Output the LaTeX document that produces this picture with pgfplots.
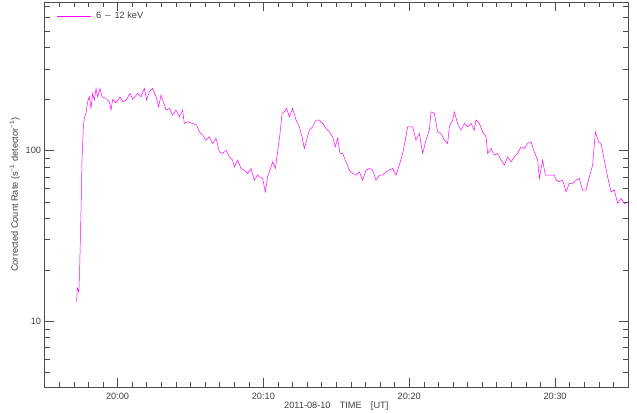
\documentclass[border=0pt]{standalone}
\usepackage{fontspec}
\setmainfont{Liberation Sans}
\usepackage{pgfplots}
\pgfplotsset{compat=1.18}
\definecolor{mag}{RGB}{255,0,255}
\begin{document}
\begin{tikzpicture}
\useasboundingbox (-44.6bp,-26.7bp) rectangle (592.4bp,387.3bp);
\begin{axis}[
  scale only axis,
  width=583.4bp, height=385.3bp,
  at={(0,0)}, anchor=south west,
  xmin=-5, xmax=35,
  ymode=log, ymin=4.1, ymax=740,
  xtick={0,10,20,30},
  xticklabels={20:00,20:10,20:20,20:30},
  minor xtick={-4,-3,-2,-1,1,2,3,4,5,6,7,8,9,11,12,13,14,15,16,17,18,19,21,22,23,24,25,26,27,28,29,31,32,33,34},
  ytick={10,100},
  yticklabels={10,100},
  minor ytick={5,6,7,8,9,20,30,40,50,60,70,80,90,200,300,400,500,600,700},
  tick align=inside,
  major tick length=9.5bp,
  minor tick length=5bp,
  tick style={black!70, line width=0.5bp},
  axis line style={black!70, line width=0.6bp},
  tick label style={font=\fontsize{9.2bp}{11bp}\selectfont, text=black!75},
  /pgf/number format/assume math mode=true,
  xticklabel style={yshift=-2bp},
  xlabel={2011-08-10\quad TIME\quad [UT]},
  ylabel={Corrected Count Rate (s\textsuperscript{−1} detector\textsuperscript{−1})},
  label style={font=\fontsize{9.2bp}{11bp}\selectfont, text=black!75},
  xlabel style={yshift=4bp},
  ylabel style={yshift=-1bp},
  legend style={draw=none, fill=none, at={(0,1)}, anchor=north west, xshift=9bp, yshift=-6bp, font=\fontsize{9.2bp}{11bp}\selectfont, text=black!75},
  legend image code/.code={\draw[mag, line width=0.35bp] (0bp,0bp) -- (34bp,0bp);},
  legend cell align=left,
]
\addplot[mag, line width=0.5bp] coordinates {
(-2.804,13.0) (-2.756,15.6) (-2.653,14.8) (-2.598,19.9) (-2.503,44.7) (-2.434,87.7)
(-2.345,137.5) (-2.276,154.6) (-2.160,165.4) (-2.050,192.7) (-1.933,206.1) (-1.817,176.9)
(-1.707,215.8) (-1.591,197.1) (-1.474,230.8) (-1.364,206.1) (-1.200,230.8) (-1.063,206.1)
(-0.788,201.7) (-0.562,192.7) (-0.446,172.2) (-0.336,198.9) (-0.103,190.0) (0.171,206.1)
(0.350,192.7) (0.583,197.1) (0.857,215.8) (1.035,198.9) (1.378,215.8) (1.611,206.1)
(1.838,230.8) (1.995,197.1) (2.180,220.4) (2.407,230.8) (2.640,206.1) (2.818,180.1)
(2.983,210.9) (3.140,192.7) (3.325,172.2) (3.552,176.2) (3.778,161.0) (4.011,172.2)
(4.237,157.3) (4.463,172.2) (4.580,143.9) (4.806,147.1) (5.149,143.9) (5.423,140.7)
(5.608,128.5) (5.835,122.9) (6.068,114.9) (6.294,120.1) (6.520,109.9) (6.753,117.6)
(6.979,98.1) (7.206,96.0) (7.439,100.4) (7.665,91.7) (7.892,87.7) (8.008,80.1)
(8.235,87.7) (8.468,78.4) (8.694,76.7) (8.920,73.3) (9.153,78.4) (9.380,67.0)
(9.606,71.6) (9.722,70.0) (9.949,68.5) (10.134,57.2) (10.291,70.0) (10.456,76.7)
(10.634,85.7) (10.819,78.4) (10.977,98.1) (11.142,125.8) (11.279,164.7) (11.436,168.3)
(11.594,176.2) (11.779,157.3) (12.005,176.2) (12.239,150.5) (12.465,137.5) (12.650,120.1)
(12.808,102.7) (12.965,114.9) (13.151,131.5) (13.377,137.5) (13.610,150.5) (13.836,150.5)
(14.062,143.9) (14.296,134.5) (14.522,128.5) (14.748,120.1) (14.934,105.0) (15.091,117.6)
(15.256,96.0) (15.434,96.0) (15.667,85.7) (15.893,76.7) (16.120,73.3) (16.353,71.6)
(16.579,74.9) (16.805,67.0) (17.038,76.7) (17.264,78.4) (17.490,76.7) (17.724,67.0)
(17.950,71.6) (18.176,71.6) (18.409,74.9) (18.636,76.7) (18.862,78.4) (19.095,71.6)
(19.321,82.0) (19.548,96.0) (19.733,114.9) (19.890,137.5) (20.233,137.5) (20.466,114.9)
(20.693,125.8) (20.919,96.0) (21.152,114.9) (21.378,131.5) (21.495,168.3) (21.721,164.7)
(21.947,128.5) (22.180,125.8) (22.407,114.9) (22.633,109.9) (22.749,137.5) (22.976,150.5)
(23.092,168.3) (23.318,143.9) (23.552,131.5) (23.778,143.9) (24.004,137.5) (24.238,143.9)
(24.464,131.5) (24.580,150.5) (24.807,143.9) (25.033,128.5) (25.266,120.1) (25.376,96.0)
(25.609,102.7) (25.835,93.9) (26.061,96.0) (26.295,87.7) (26.521,82.0) (26.747,91.7)
(26.980,85.7) (27.207,91.7) (27.433,96.0) (27.666,105.0) (27.892,102.7) (28.118,109.9)
(28.351,112.3) (28.578,98.1) (28.804,87.7) (28.921,68.5) (29.147,87.7) (29.332,71.6)
(29.606,71.6) (29.949,71.6) (30.065,67.0) (30.292,65.5) (30.518,67.0) (30.751,57.2)
(30.977,64.1) (31.203,64.1) (31.437,67.0) (31.663,68.5) (31.889,58.5) (32.122,58.5)
(32.349,70.0) (32.575,82.0) (32.760,128.5) (32.986,112.3) (33.151,109.9) (33.377,87.7)
(33.603,70.0) (33.836,57.2) (34.063,58.5) (34.289,48.9) (34.522,52.3) (34.749,48.9)
(34.865,48.9)
};
\addlegendentry{\hspace{3bp}6 \,–\, 12 keV}
\end{axis}
\end{tikzpicture}
\end{document}
